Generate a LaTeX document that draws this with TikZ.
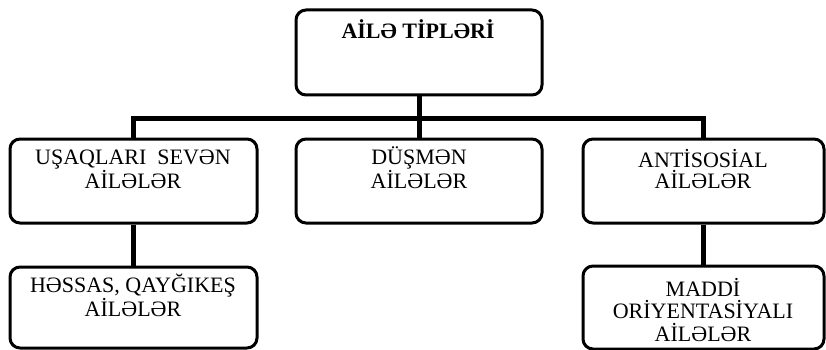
\documentclass[tikz,border=0pt]{standalone}
\usepackage{fontspec}
\setmainfont{Liberation Serif}
\begin{document}
\begin{tikzpicture}[x=1pt,y=-1pt,
  box/.style={draw=black, line width=3pt, rounded corners=10pt, fill=white, inner sep=0pt},
  conn/.style={draw=black, line width=5pt},
  lbl/.style={anchor=base, align=center, inner sep=0pt, font=\fontsize{22}{21.5}\selectfont}]
\useasboundingbox (0,0) rectangle (826,350);
% boxes
\node[box, minimum width=246pt, minimum height=85pt] (top) at (419,52.5) {};
\node[box, minimum width=247pt, minimum height=84pt] (lb) at (133.5,181) {};
\node[box, minimum width=246pt, minimum height=84pt] (mb) at (419,181) {};
\node[box, minimum width=241pt, minimum height=84pt] (rb) at (703.5,181) {};
\node[box, minimum width=247pt, minimum height=81pt] (hb) at (133.5,307.5) {};
\node[box, minimum width=241pt, minimum height=83pt] (mo) at (703.5,307.5) {};
% connectors
\coordinate (bus) at (0,118);
\draw[conn] (top.south) -- (mb.north);
\draw[conn] (lb.north) -- (lb.north |- bus) -- (rb.north |- bus) -- (rb.north);
\draw[conn] (lb.south) -- (hb.north);
\draw[conn] (rb.south) -- (mo.north);
% texts (anchor base = baseline of last line)
\node[lbl, font=\fontsize{22}{22}\selectfont\bfseries] (ttop) at (418,39) {AİLƏ TİPLƏRİ};
\node[lbl] (tlb) at (133,188.5) {UŞAQLARI\ \ SEVƏN\\AİLƏLƏR};
\node[lbl] (tmb) at (419,188.5) {DÜŞMƏN\\AİLƏLƏR};
\node[lbl] (trb) at (703,188.5) {ANTİSOSİAL\\AİLƏLƏR};
\node[lbl] (thb) at (133,316) {HƏSSAS, QAYĞIKEŞ\\AİLƏLƏR};
\node[lbl, font=\fontsize{22}{22.5}\selectfont] (tmo) at (703,341) {MADDİ\\ORİYENTASİYALI\\AİLƏLƏR};
\end{tikzpicture}
\end{document}
